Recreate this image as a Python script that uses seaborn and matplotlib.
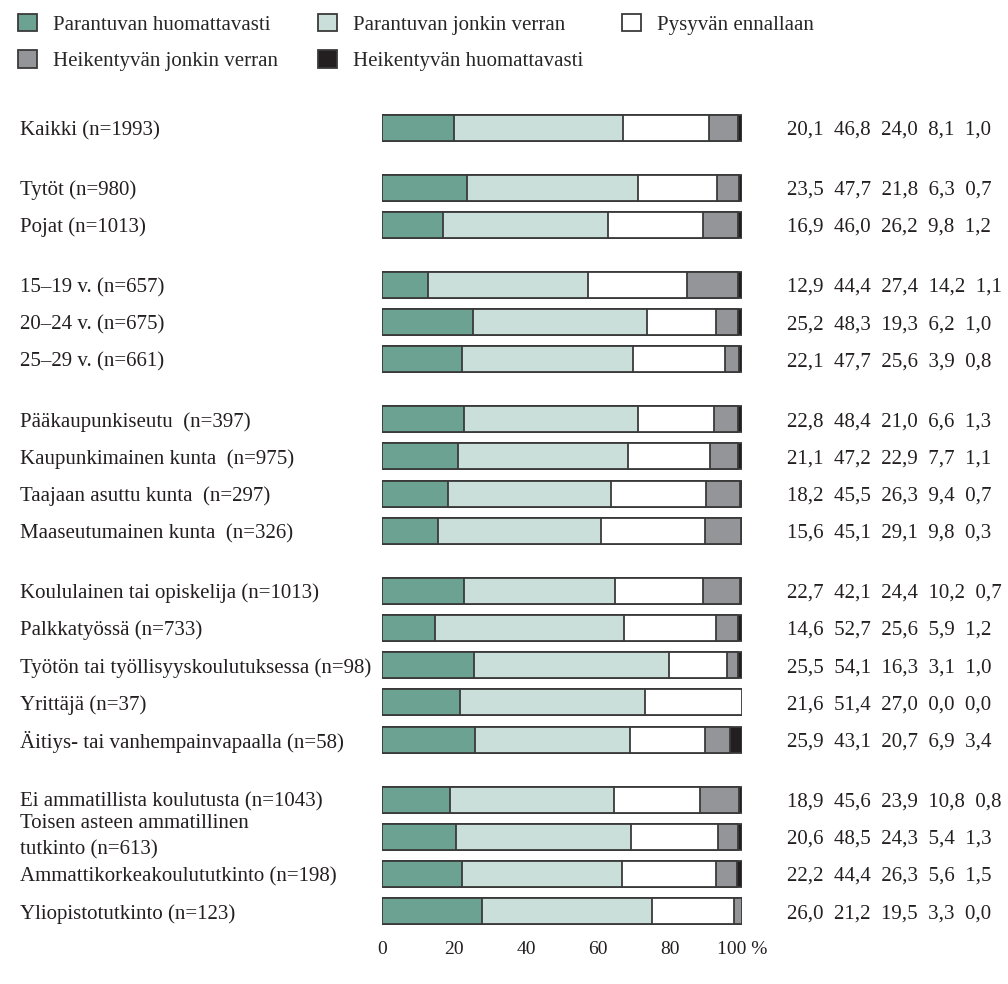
import numpy as np
import pandas as pd
import matplotlib
matplotlib.use('Agg')
import matplotlib.pyplot as plt
from matplotlib.patches import Patch
import seaborn as sns

sns.set_style('white')
plt.rcParams['font.family'] = ['Liberation Serif', 'DejaVu Serif']

rows = ['Kaikki (n=1993)',
        'Tytöt (n=980)', 'Pojat (n=1013)',
        '15–19 v. (n=657)', '20–24 v. (n=675)', '25–29 v. (n=661)',
        'Pääkaupunkiseutu  (n=397)', 'Kaupunkimainen kunta  (n=975)',
        'Taajaan asuttu kunta  (n=297)', 'Maaseutumainen kunta  (n=326)',
        'Koululainen tai opiskelija (n=1013)', 'Palkkatyössä (n=733)',
        'Työtön tai työllisyyskoulutuksessa (n=98)', 'Yrittäjä (n=37)',
        'Äitiys- tai vanhempainvapaalla (n=58)',
        'Ei ammatillista koulutusta (n=1043)',
        'Toisen asteen ammatillinen\ntutkinto (n=613)',
        'Ammattikorkeakoulututkinto (n=198)', 'Yliopistotutkinto (n=123)']
groups = [0, 1, 1, 2, 2, 2, 3, 3, 3, 3, 4, 4, 4, 4, 4, 5, 5, 5, 5]

categories = ['Parantuvan huomattavasti', 'Parantuvan jonkin verran',
              'Pysyvän ennallaan', 'Heikentyvän jonkin verran',
              'Heikentyvän huomattavasti']

# printed values (%)
par_huom = [20.1, 23.5, 16.9, 12.9, 25.2, 22.1, 22.8, 21.1, 18.2, 15.6,
            22.7, 14.6, 25.5, 21.6, 25.9, 18.9, 20.6, 22.2, 26.0]
par_jonk = [46.8, 47.7, 46.0, 44.4, 48.3, 47.7, 48.4, 47.2, 45.5, 45.1,
            42.1, 52.7, 54.1, 51.4, 43.1, 45.6, 48.5, 44.4, 21.2]
pysyva = [24.0, 21.8, 26.2, 27.4, 19.3, 25.6, 21.0, 22.9, 26.3, 29.1,
          24.4, 25.6, 16.3, 27.0, 20.7, 23.9, 24.3, 26.3, 19.5]
heik_jonk = [8.1, 6.3, 9.8, 14.2, 6.2, 3.9, 6.6, 7.7, 9.4, 9.8,
             10.2, 5.9, 3.1, 0.0, 6.9, 10.8, 5.4, 5.6, 3.3]
heik_huom = [1.0, 0.7, 1.2, 1.1, 1.0, 0.8, 1.3, 1.1, 0.7, 0.3,
             0.7, 1.2, 1.0, 0.0, 3.4, 0.8, 1.3, 1.5, 0.0]

# the last bar in the original is drawn differently from its printed numbers
yliopisto_bar = [27.9, 47.0, 22.9, 2.2, 0.0]

colors = ['#6ba292', '#cbdfda', '#ffffff', '#939598', '#231f20']
edge = '#3a3a3a'
fs = 15

printed = np.array([par_huom, par_jonk, pysyva, heik_jonk, heik_huom]).T
bars = printed.copy()
bars[-1] = yliopisto_bar
cum = bars.cumsum(axis=1)

gap = 0.61
pos = np.arange(len(rows)) + np.array(groups) * gap

df = pd.DataFrame(cum, columns=categories)
df['pos'] = pos

fig = plt.figure(figsize=(10.08, 9.84), dpi=100)
ax = fig.add_axes([382 / 1008, 1 - 935 / 984, 360 / 1008, 835 / 984])

# stacked bars: draw cumulative totals from the longest down
for k in range(4, -1, -1):
    sns.barplot(data=df, x=categories[k], y='pos', orient='h', native_scale=True,
                color=colors[k], saturation=1, edgecolor=edge, linewidth=1.3,
                width=0.70, ax=ax)

ax.set_xlim(0, 100)
ax.set_ylim(pos[-1] + 0.64, pos[0] - 0.75)
ax.set_xticks([0, 20, 40, 60, 80, 100])
ax.set_xticklabels(['0', '20', '40', '60', '80', '100 %'])
ax.set_yticks([])
ax.set_xlabel('')
ax.set_ylabel('')
ax.tick_params(axis='x', length=0, pad=4, labelsize=14, colors='#231f20')
for s in ax.spines.values():
    s.set_visible(False)

tr = ax.get_yaxis_transform()
for y, lab, vals in zip(pos, rows, printed):
    va = 'center' if '\n' in lab else 'center_baseline'
    ax.text(-1.006, y, lab, transform=tr, ha='left', va=va,
            fontsize=fs, color='#231f20', linespacing=1.45)
    txt = '  '.join(f'{v:.1f}'.replace('.', ',') for v in vals)
    ax.text(1.125, y, txt, transform=tr, ha='left', va='center_baseline',
            fontsize=fs, color='#231f20')

# legend: three columns, one legend per column
handles = [Patch(facecolor=c, edgecolor=edge, linewidth=1.3) for c in colors]
columns = [[0, 3], [1, 4], [2]]
col_x = [18, 318, 622]
for idx, x0 in zip(columns, col_x):
    fig.legend([handles[i] for i in idx], [categories[i] for i in idx],
               loc='upper left', bbox_to_anchor=(x0 / 1008, 1 - 14 / 984),
               frameon=False, fontsize=fs, handlelength=0.9, handleheight=0.9,
               handletextpad=0.8, labelspacing=0.75, borderpad=0,
               borderaxespad=0)

fig.savefig('out.png', dpi=100, facecolor='white')
